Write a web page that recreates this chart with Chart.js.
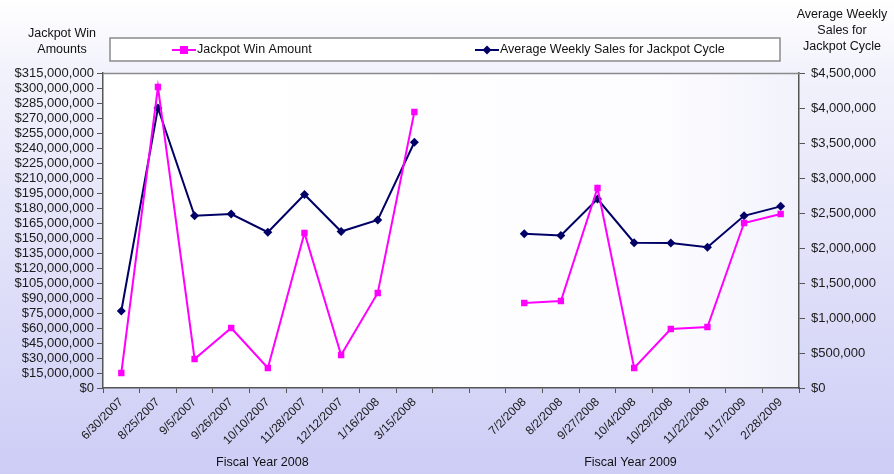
<!DOCTYPE html>
<html>
<head>
<meta charset="utf-8">
<script src="https://cdn.jsdelivr.net/npm/chart.js@4.4.1/dist/chart.umd.min.js"></script>
<style>
  html, body { margin: 0; padding: 0; background: #fff; }
  #wrap { width: 894px; height: 474px; position: relative; }
</style>
</head>
<body>
<div id="wrap"><canvas id="graphique" width="894" height="474"></canvas></div>
<script>
// categories (two empty slots separate the fiscal years)
const dates = [
    '6/30/2007', '8/25/2007', '9/5/2007', '9/26/2007', '10/10/2007', '11/28/2007',
    '12/12/2007', '1/16/2008', '3/15/2008', '', '',
    '7/2/2008', '8/2/2008', '9/27/2008', '10/4/2008', '10/29/2008', '11/22/2008',
    '1/17/2009', '2/28/2009'
];

// jackpot win amounts (left axis)
const jackpotWin = [
    15000000, 301000000, 29000000, 60000000, 20000000, 155000000,
    33000000, 95000000, 276000000, null, null,
    85000000, 87000000, 200000000, 20000000, 59000000, 61000000,
    165000000, 174000000
];

// average weekly sales for jackpot cycle (right axis)
const weeklySales = [
    1100000, 4000000, 2460000, 2485000, 2225000, 2765000,
    2235000, 2400000, 3510000, null, null,
    2205000, 2180000, 2700000, 2075000, 2070000, 2010000,
    2460000, 2595000
];

const fiscalYears = ['Fiscal Year 2008', 'Fiscal Year 2009'];

const money = v => '$' + Number(v).toLocaleString('en-US');

const decorPlugin = {
    id: 'decor',
    beforeDraw(chart) {
        const ctx = chart.ctx;
        const w = chart.width, h = chart.height;
        ctx.save();
        const g = ctx.createLinearGradient(0, 0, 0, h);
        g.addColorStop(0, '#ffffff');
        g.addColorStop(0.15, '#f2f2fc');
        g.addColorStop(1, '#cdcdf6');
        ctx.fillStyle = g;
        ctx.fillRect(0, 0, w, h);
        const a = chart.chartArea;
        const g2 = ctx.createLinearGradient(a.left, 0, a.right, 0);
        g2.addColorStop(0, '#ffffff');
        g2.addColorStop(0.8, '#fdfdff');
        g2.addColorStop(1, '#f2f2fc');
        ctx.fillStyle = g2;
        ctx.fillRect(a.left, a.top, a.right - a.left, a.bottom - a.top);
        ctx.restore();
    },
    afterDraw(chart) {
        const ctx = chart.ctx;
        const a = chart.chartArea;
        ctx.save();
        // top border of plot area
        ctx.strokeStyle = '#8a8a8a';
        ctx.lineWidth = 1.5;
        ctx.beginPath();
        ctx.moveTo(a.left, a.top + 0.5);
        ctx.lineTo(a.right, a.top + 0.5);
        ctx.stroke();

        // legend box
        ctx.fillStyle = '#ffffff';
        ctx.fillRect(110, 38, 670, 23);
        ctx.strokeStyle = '#8a8a8a';
        ctx.lineWidth = 1.5;
        ctx.strokeRect(110, 38, 670, 23);
        ctx.font = '12.5px "Liberation Sans", Arial, sans-serif';
        ctx.textBaseline = 'middle';
        ctx.fillStyle = '#111';
        // magenta item
        ctx.strokeStyle = '#ff00ff';
        ctx.lineWidth = 2;
        ctx.beginPath(); ctx.moveTo(172, 50); ctx.lineTo(196, 50); ctx.stroke();
        ctx.fillStyle = '#ff00ff';
        ctx.fillRect(180, 46, 8, 8);
        ctx.fillStyle = '#111';
        ctx.fillText('Jackpot Win Amount', 197, 50);
        // navy item
        ctx.strokeStyle = '#000066';
        ctx.beginPath(); ctx.moveTo(475, 50); ctx.lineTo(499, 50); ctx.stroke();
        ctx.fillStyle = '#000066';
        ctx.beginPath();
        ctx.moveTo(487, 45.5); ctx.lineTo(491.5, 50); ctx.lineTo(487, 54.5); ctx.lineTo(482.5, 50);
        ctx.closePath(); ctx.fill();
        ctx.fillStyle = '#111';
        ctx.fillText('Average Weekly Sales for Jackpot Cycle', 500, 50);

        // axis titles
        ctx.textAlign = 'center';
        ctx.font = '12.5px "Liberation Sans", Arial, sans-serif';
        ctx.fillText('Jackpot Win', 62, 34);
        ctx.fillText('Amounts', 62, 50);
        ctx.fillText('Average Weekly', 842, 15);
        ctx.fillText('Sales for', 842, 31);
        ctx.fillText('Jackpot Cycle', 842, 47);

        // fiscal year titles under the date labels
        const x = chart.scales.x;
        ctx.fillText(fiscalYears[0], x.getPixelForValue(3.85), 463);
        ctx.fillText(fiscalYears[1], x.getPixelForValue(13.9), 463);
        ctx.restore();
    }
};

const graph = document.getElementById('graphique');

new Chart(graph, {
    type: 'line',
    data: {
        labels: dates,
        datasets: [{
            label: 'Jackpot Win Amount',
            data: jackpotWin,
            yAxisID: 'y',
            borderColor: '#ff00ff',
            backgroundColor: '#ff00ff',
            borderWidth: 2,
            pointStyle: 'rect',
            pointRadius: 4.5,
            pointBorderWidth: 0,
            tension: 0,
            spanGaps: false
        }, {
            label: 'Average Weekly Sales for Jackpot Cycle',
            data: weeklySales,
            yAxisID: 'y2',
            borderColor: '#000066',
            backgroundColor: '#000066',
            borderWidth: 2,
            pointStyle: 'rectRot',
            pointRadius: 4.5,
            pointBorderWidth: 0,
            tension: 0,
            spanGaps: false
        }]
    },
    options: {
        responsive: false,
        animation: false,
        layout: { padding: { top: 73, left: 0, right: 0, bottom: 0 } },
        plugins: {
            legend: { display: false },
            tooltip: { enabled: false }
        },
        scales: {
            x: {
                offset: true,
                grid: {
                    offset: true,
                    drawOnChartArea: false,
                    tickLength: 5,
                    color: '#555'
                },
                border: { color: '#555', width: 1.5 },
                ticks: {
                    autoSkip: false,
                    minRotation: 45,
                    maxRotation: 45,
                    color: '#1a1a1a',
                    padding: 2,
                    font: { family: '"Liberation Sans", Arial, sans-serif', size: 12 }
                },
                afterFit(scale) { scale.height = 86; }
            },
            y: {
                position: 'left',
                min: 0,
                max: 315000000,
                grid: { drawOnChartArea: false, tickLength: 6, color: '#555' },
                border: { color: '#555', width: 1.5 },
                ticks: {
                    autoSkip: false,
                    stepSize: 15000000,
                    color: '#1a1a1a',
                    padding: 3,
                    callback: v => money(v),
                    font: { family: '"Liberation Sans", Arial, sans-serif', size: 13 }
                },
                afterFit(scale) { scale.width = 103; }
            },
            y2: {
                position: 'right',
                min: 0,
                max: 4500000,
                grid: { drawOnChartArea: false, tickLength: 6, color: '#555' },
                border: { color: '#555', width: 1.5 },
                ticks: {
                    autoSkip: false,
                    stepSize: 500000,
                    color: '#1a1a1a',
                    padding: 6,
                    callback: v => money(v),
                    font: { family: '"Liberation Sans", Arial, sans-serif', size: 13 }
                },
                afterFit(scale) { scale.width = 95; }
            }
        }
    },
    plugins: [decorPlugin]
});
</script>
</body>
</html>
